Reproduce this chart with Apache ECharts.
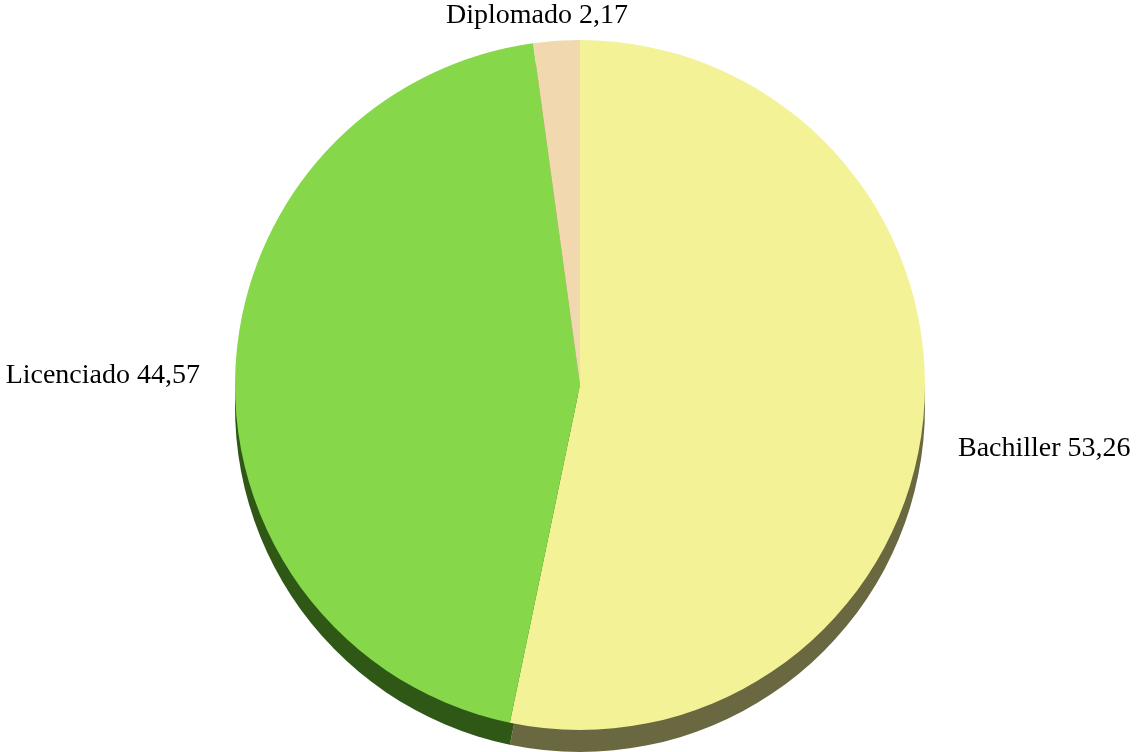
<!DOCTYPE html>
<html>
<head>
<meta charset="utf-8">
<script src="https://cdn.jsdelivr.net/npm/echarts@6/dist/echarts.min.js"></script>
<style>
html,body{margin:0;padding:0;background:#fff;}
#main{width:1136px;height:752px;}
</style>
</head>
<body>
<div id="main"></div>
<script>
const categories = ['Bachiller', 'Licenciado', 'Diplomado'];
const values = [53.26, 44.57, 2.17];

const topColors = ['#F3F297', '#86D84A', '#F1D8AE'];
const sideColors = ['#6A6840', '#2F5716', '#9A8760'];
const labelPos = {
  'Bachiller': {x: 958, y: 449, align: 'left'},
  'Licenciado': {x: 200, y: 376, align: 'right'},
  'Diplomado': {x: 537, y: 16, align: 'center'}
};

const topData = categories.map((c, i) => ({name: c, value: values[i], itemStyle: {color: topColors[i]}}));
const sideData = categories.map((c, i) => ({name: c, value: values[i], itemStyle: {color: sideColors[i]}}));

const chart = echarts.init(document.getElementById('main'), null, {renderer: 'canvas'});
chart.setOption({
  animation: false,
  backgroundColor: '#ffffff',
  series: [
    {
      type: 'pie',
      silent: true,
      center: [580, 407],
      radius: [0, 345],
      startAngle: 90,
      clockwise: true,
      label: {show: false},
      labelLine: {show: false},
      data: sideData,
      z: 1
    },
    {
      type: 'pie',
      silent: true,
      center: [580, 385],
      radius: [0, 345],
      startAngle: 90,
      clockwise: true,
      avoidLabelOverlap: false,
      label: {
        show: true,
        position: 'outside',
        fontFamily: '"Liberation Serif", "Times New Roman", serif',
        fontSize: 28,
        color: '#000',
        formatter: p => p.name + ' ' + p.value.toFixed(2).replace('.', ',')
      },
      labelLine: {show: false},
      labelLayout: function (params) {
        const name = categories[params.dataIndex];
        const lp = labelPos[name];
        return {x: lp.x, y: lp.y, align: lp.align, verticalAlign: 'middle'};
      },
      data: topData,
      z: 2
    }
  ]
});
</script>
</body>
</html>
